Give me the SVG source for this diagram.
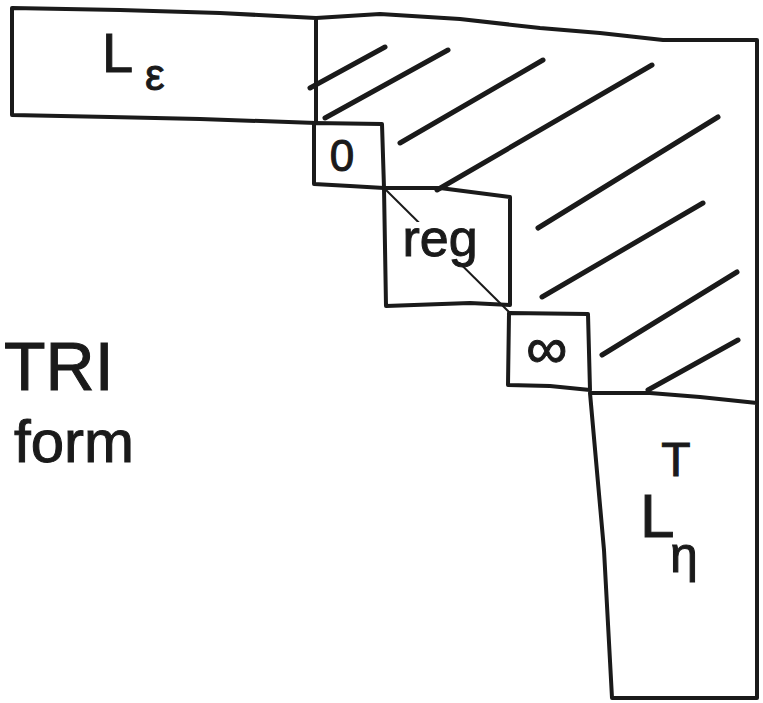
<svg xmlns="http://www.w3.org/2000/svg" width="763" height="703" viewBox="0 0 763 703">
<style>
.box{fill:none;stroke:#1a1a1a;stroke-width:4;stroke-linejoin:round;stroke-linecap:round}
.hatch{fill:none;stroke:#1a1a1a;stroke-width:5;stroke-linecap:round}
.thin{fill:none;stroke:#1a1a1a;stroke-width:2}
text{font-family:"Liberation Sans","DejaVu Sans",sans-serif;fill:#1a1a1a;stroke:#1a1a1a;stroke-width:1}
</style>
<rect width="763" height="703" fill="#ffffff"/>
<g id="L_eps">
<path class="box" d="M12,8 L120,10 L220,13 L316,18 L316,123 L200,119 L110,117 L12,115 Z"/>
<text x="102" y="72" font-size="56">L</text>
<text x="145" y="90" font-size="44">ε</text>
</g>
<g id="upper">
<path class="box" d="M316,18 L380,14 L460,19 L540,28 L600,33 L663,40 L757,40 L757,403"/>
</g>
<g id="hatching">
<line class="hatch" x1="310" y1="88" x2="385" y2="47"/>
<line class="hatch" x1="325" y1="118" x2="448" y2="50"/>
<line class="hatch" x1="400" y1="143" x2="543" y2="60"/>
<line class="hatch" x1="437" y1="190" x2="652" y2="65"/>
<line class="hatch" x1="538" y1="228" x2="718" y2="117"/>
<line class="hatch" x1="542" y1="297" x2="703" y2="203"/>
<line class="hatch" x1="602" y1="355" x2="737" y2="272"/>
<line class="hatch" x1="648" y1="390" x2="738" y2="340"/>
</g>
<g id="zero">
<path class="box" d="M314,123 L382,124 L384,188 L350,186 L314,184 Z"/>
<text x="342" y="171" font-size="44" text-anchor="middle">0</text>
</g>
<g id="connectors">
<line class="thin" x1="385" y1="189" x2="510" y2="313"/>
</g>
<g id="reg">
<path class="box" d="M384,188 L440,188 L510,197 L510,305 L470,303 L386,306 Z"/>
<rect x="398" y="222" width="80" height="40" fill="#ffffff"/>
<text x="440" y="256" font-size="52" text-anchor="middle">reg</text>
</g>
<g id="inf">
<path class="box" d="M509,313 L588,314 L590,390 L550,386 L508,385 Z"/>
<text x="547" y="368" font-size="58" text-anchor="middle">∞</text>
</g>
<g id="L_eta_T">
<path class="box" d="M590,393 L650,393 L700,397 L757,403 L757,698 L612,698 L604,550 Z"/>
<text x="676" y="476" font-size="48" text-anchor="middle">T</text>
<text x="640" y="537" font-size="62">L</text>
<text x="670" y="572" font-size="50">η</text>
</g>
<g id="label">
<text x="4" y="390" font-size="68">TRI</text>
<text x="14" y="462" font-size="60">form</text>
</g>
</svg>
